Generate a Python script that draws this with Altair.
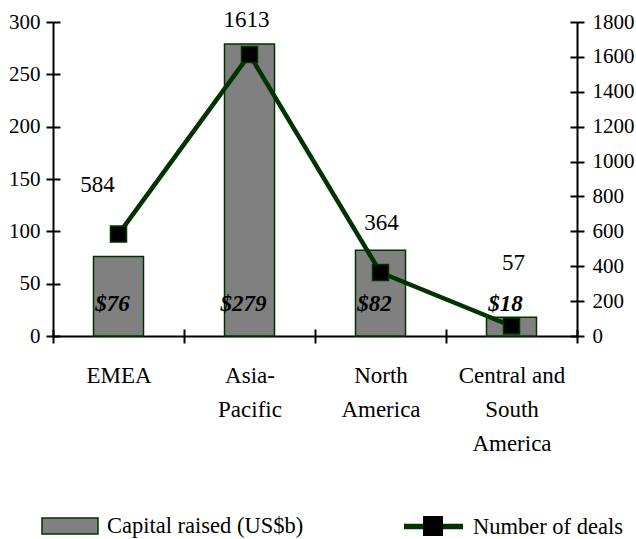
import altair as alt
import pandas as pd

categories = ["EMEA", "Asia-Pacific", "North America", "Central and South America"]
capital = [76, 279, 82, 18]
deals = [584, 1613, 364, 57]
capital_labels = ["$76", "$279", "$82", "$18"]
axis_label_lines = {
    "EMEA": ["EMEA"],
    "Asia-Pacific": ["Asia-", "Pacific"],
    "North America": ["North", "America"],
    "Central and South America": ["Central and", "South", "America"],
}
left_ticks = [0, 50, 100, 150, 200, 250, 300]
right_ticks = [0, 200, 400, 600, 800, 1000, 1200, 1400, 1600, 1800]
series_bar = "Capital raised (US$b)"
series_line = "Number of deals"

df = pd.DataFrame({"region": categories, "capital": capital, "deals": deals,
                   "cap_label": capital_labels,
                   "s_bar": [series_bar] * 4, "s_line": [series_line] * 4,
                   "s_mark": ["marker"] * 4})

FONT = "Liberation Serif"
GREEN = "#003300"
GRAY = "#808080"

# label placement style (pixel nudges of the deal-count labels, as in the source)
deal_label_nudge = {
    "EMEA": (-21, -49),
    "Asia-Pacific": (-3, -35),
    "North America": (1, -50),
    "Central and South America": (2, -63),
}

label_expr = ""
for k, v in axis_label_lines.items():
    arr = "[" + ",".join("'" + s + "'" for s in v) + "]"
    label_expr += f"datum.value == '{k}' ? {arr} : "
label_expr += "datum.label"

x_scale = alt.Scale(paddingInner=0, paddingOuter=0)
y_left_scale = alt.Scale(domain=[0, 300], nice=False, zero=True)
y_right_scale = alt.Scale(domain=[0, 1800], nice=False, zero=True)

x_none = alt.X("region:N", sort=categories, scale=x_scale, axis=None)

base = alt.Chart(df)

bars = base.mark_bar(width=50, stroke=GREEN, strokeWidth=1.5).encode(
    x=alt.X("region:N", sort=categories, scale=x_scale,
            axis=alt.Axis(orient="bottom", title=None, labelExpr=label_expr,
                          labelFont=FONT, labelFontSize=23, labelColor="black",
                          labelAngle=0, labelPadding=21, labelLineHeight=34,
                          labelBaseline="top",
                          tickBand="extent", tickSize=7, tickWidth=2, tickColor="black",
                          domainColor="black", domainWidth=2)),
    y=alt.Y("capital:Q", scale=y_left_scale,
            axis=alt.Axis(orient="left", values=left_ticks, title=None, grid=False,
                          labelFont=FONT, labelFontSize=21, labelColor="black",
                          labelPadding=6, tickSize=7, tickWidth=2, tickColor="black",
                          domainColor="black", domainWidth=2)),
    fill=alt.Fill("s_bar:N", scale=alt.Scale(range=[GRAY]),
                  legend=alt.Legend(orient="none", legendX=-12, legendY=475, title=None,
                                    symbolType="M-1,-0.29L1,-0.29L1,0.29L-1,0.29Z",
                                    symbolSize=3136, symbolStrokeColor=GREEN,
                                    symbolStrokeWidth=1.5, symbolFillColor=GRAY,
                                    labelFont=FONT, labelFontSize=22.5, labelColor="black",
                                    labelOffset=8, labelLimit=400, padding=0)),
)

line = base.mark_line(strokeWidth=4.5).encode(
    x=x_none,
    y=alt.Y("deals:Q", scale=y_right_scale,
            axis=alt.Axis(orient="right", values=right_ticks, title=None, grid=False,
                          format="d",
                          labelFont=FONT, labelFontSize=21, labelColor="black",
                          labelPadding=8, tickSize=7, tickWidth=2, tickColor="black",
                          domainColor="black", domainWidth=2)),
    stroke=alt.Stroke("s_line:N", scale=alt.Scale(range=[GREEN]),
                      legend=alt.Legend(orient="none", legendX=348, legendY=472, title=None,
                                        symbolType="stroke", symbolSize=3481,
                                        symbolStrokeWidth=5.5,
                                        labelFont=FONT, labelFontSize=22.5,
                                        labelColor="black", labelOffset=7,
                                        labelLimit=400, padding=0)),
)

points = base.mark_point(size=256, filled=True, fill="black", stroke=GREEN,
                         strokeWidth=1.5, opacity=1).encode(
    x=x_none,
    y=alt.Y("deals:Q", scale=y_right_scale, axis=None),
    shape=alt.Shape("s_mark:N", scale=alt.Scale(range=["square"]),
                    legend=alt.Legend(orient="none", legendX=369, legendY=493, title=None,
                                      symbolSize=400, symbolFillColor="black",
                                      symbolStrokeColor=GREEN, symbolStrokeWidth=1.5,
                                      labelExpr="''", padding=0)),
)

deal_label_layers = []
for cat in categories:
    ndx, ndy = deal_label_nudge[cat]
    deal_label_layers.append(
        base.transform_filter(alt.datum.region == cat).mark_text(
            font=FONT, fontSize=23, color="black", baseline="middle", dx=ndx, dy=ndy
        ).encode(
            x=x_none,
            y=alt.Y("deals:Q", scale=y_right_scale, axis=None),
            text=alt.Text("deals:Q"),
        )
    )

bar_labels = base.mark_text(font=FONT, fontSize=23, fontStyle="italic", fontWeight="bold",
                            color="black", baseline="middle", dx=-6, dy=-32).encode(
    x=x_none,
    y=alt.Y(datum=0, scale=y_left_scale, axis=None),
    text=alt.Text("cap_label:N"),
)

inner_left = base.mark_point(opacity=0).encode(
    x=alt.X("region:N", sort=categories, scale=x_scale,
            axis=alt.Axis(orient="bottom", offset=-7, labels=False, domain=False,
                          title=None, tickBand="extent", tickSize=7, tickWidth=2,
                          tickColor="black")),
    y=alt.Y("capital:Q", scale=y_left_scale,
            axis=alt.Axis(orient="left", offset=-7, values=left_ticks, labels=False,
                          domain=False, title=None, grid=False, tickSize=7, tickWidth=2,
                          tickColor="black")),
)

inner_right = base.mark_point(opacity=0).encode(
    x=x_none,
    y=alt.Y("deals:Q", scale=y_right_scale,
            axis=alt.Axis(orient="right", offset=-7, values=right_ticks, labels=False,
                          domain=False, title=None, grid=False, tickSize=7, tickWidth=2,
                          tickColor="black")),
)

chart = alt.layer(bars, line, points, *deal_label_layers, bar_labels, inner_left,
                  inner_right).resolve_scale(
    y="independent"
).resolve_axis(
    x="independent", y="independent"
).properties(
    width=524, height=314,
    padding={"left": 53, "top": 22, "right": 59, "bottom": 203},
    autosize=alt.AutoSizeParams(type="none"),
    background="white",
).configure_view(stroke=None)

chart.save("out.html", embed_options={"renderer": "svg", "actions": False})
